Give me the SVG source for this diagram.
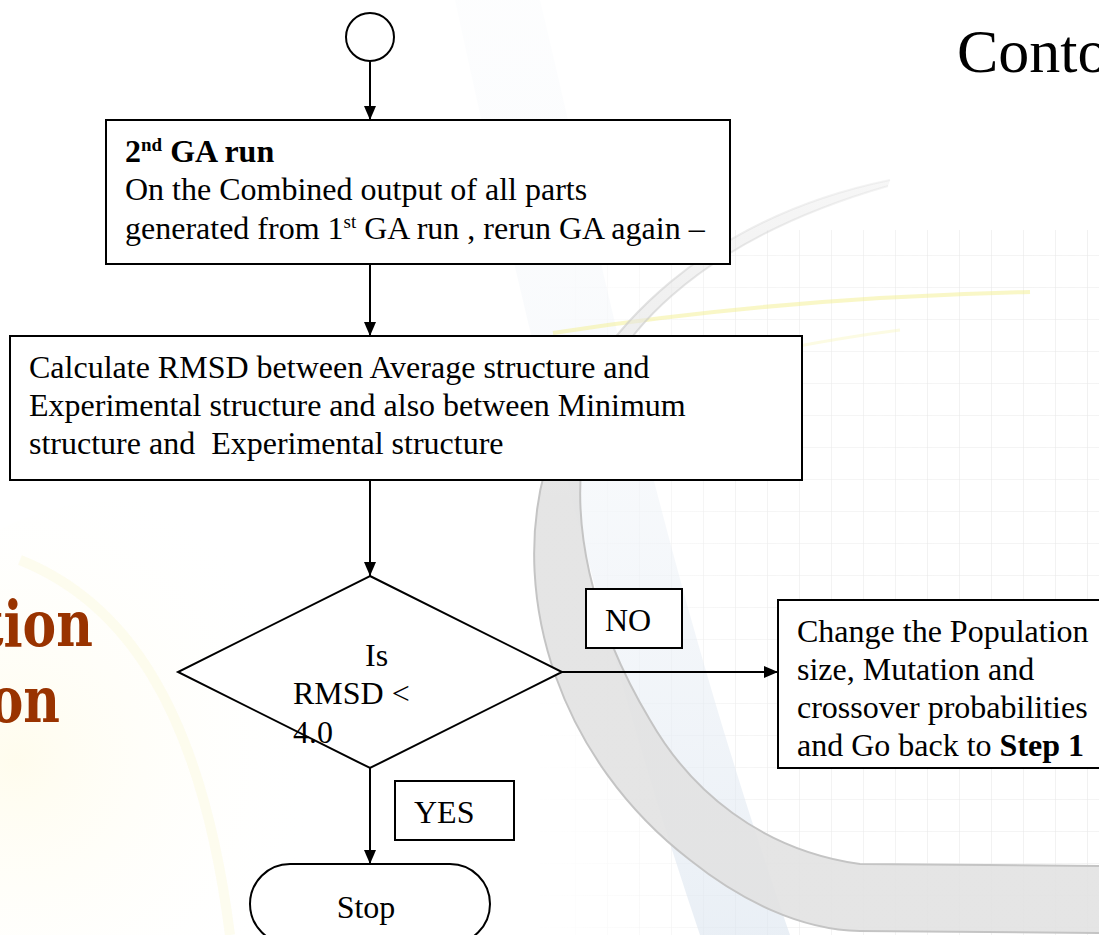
<svg xmlns="http://www.w3.org/2000/svg" width="1099" height="935" viewBox="0 0 1099 935">
  <defs>
    <style>
      .box { fill: #ffffff; stroke: #000000; stroke-width: 2; }
      .conn { fill: none; stroke: #000000; stroke-width: 2; }
      .t { font-family: "Liberation Serif", "Times New Roman", serif; font-size: 32px; fill: #000000; }
      .b { font-weight: bold; }
      .sup { font-size: 19px; }
      .title { font-family: "DejaVu Serif", "Liberation Serif", serif; font-weight: bold; font-size: 63px; fill: #993300; }
    </style>
    <marker id="arrow" viewBox="0 0 14 12" refX="14" refY="6" markerWidth="14" markerHeight="12" markerUnits="userSpaceOnUse" orient="auto">
      <path d="M0,0 L14,6 L0,12 Z" fill="#000000"/>
    </marker>
    <pattern id="grid" x="0" y="0" width="32" height="32" patternUnits="userSpaceOnUse">
      <path d="M32,0 V32 M0,32 H32" fill="none" stroke="#e8e8e8" stroke-width="1.2"/>
    </pattern>
    <linearGradient id="gridFade" x1="0" y1="0" x2="1" y2="0">
      <stop offset="0" stop-color="#fff" stop-opacity="0"/>
      <stop offset="0.35" stop-color="#fff" stop-opacity="0.8"/>
      <stop offset="1" stop-color="#fff" stop-opacity="1"/>
    </linearGradient>
    <mask id="gridMask">
      <rect x="540" y="230" width="560" height="705" fill="url(#gridFade)"/>
    </mask>
    <linearGradient id="blueBand" x1="0" y1="0" x2="0" y2="1">
      <stop offset="0" stop-color="#eef2f7" stop-opacity="0.2"/>
      <stop offset="0.5" stop-color="#e8eef5" stop-opacity="0.5"/>
      <stop offset="1" stop-color="#dde6f0" stop-opacity="0.9"/>
    </linearGradient>
    <linearGradient id="arcFade" gradientUnits="userSpaceOnUse" x1="0" y1="180" x2="0" y2="500">
      <stop offset="0" stop-color="#e4e4e4" stop-opacity="0.3"/>
      <stop offset="1" stop-color="#e2e2e2" stop-opacity="0.9"/>
    </linearGradient>
    <linearGradient id="arcEdge" gradientUnits="userSpaceOnUse" x1="0" y1="180" x2="0" y2="500">
      <stop offset="0" stop-color="#c8c8c8" stop-opacity="0.2"/>
      <stop offset="1" stop-color="#c4c4c4" stop-opacity="1"/>
    </linearGradient>
    <radialGradient id="yellowGlow" cx="0.3" cy="0.5" r="0.6">
      <stop offset="0" stop-color="#fffbe6" stop-opacity="0.7"/>
      <stop offset="1" stop-color="#ffffff" stop-opacity="0"/>
    </radialGradient>
  </defs>

  <!-- background decoration -->
  <g id="background">
    <rect x="0" y="0" width="1099" height="935" fill="#ffffff"/>
    <ellipse cx="120" cy="760" rx="260" ry="260" fill="url(#yellowGlow)"/>
    <rect x="540" y="230" width="560" height="705" fill="url(#grid)" mask="url(#gridMask)"/>
    <path d="M455,0 L540,0 C600,250 660,560 790,935 L700,935 C600,640 520,300 455,0 Z" fill="url(#blueBand)" opacity="0.7"/>
    <path d="M553,333 C700,310 850,296 1030,292" fill="none" stroke="#f4ef90" stroke-width="4" opacity="0.5"/>
    <path d="M590,390 C720,360 820,340 900,330" fill="none" stroke="#f8f4b8" stroke-width="3" opacity="0.4"/>
    <path d="M20,560 C120,600 200,700 230,935" fill="none" stroke="#fcf9e0" stroke-width="10" opacity="0.5"/>
    <path d="M890,180 C720,215 590,320 545,470 C510,600 560,760 690,860 C740,900 800,930 860,931 L1099,933 L1099,866 L860,864 C760,850 690,790 650,720 C590,620 570,520 585,440 C600,340 700,240 888,186 Z" fill="url(#arcFade)"/>
    <path d="M890,180 C720,215 590,320 545,470 C510,600 560,760 690,860 C740,900 800,930 860,931 L1099,933" fill="none" stroke="url(#arcEdge)" stroke-width="2"/>
    <path d="M888,186 C700,240 600,340 585,440 C570,520 590,620 650,720 C690,790 760,850 860,864 L1099,866" fill="none" stroke="url(#arcEdge)" stroke-width="2"/>
  </g>

  <text class="t" x="957" y="72" style="font-size:62px">Conto</text>
  <g transform="scale(0.8 1)">
    <text class="title" x="116" y="646" text-anchor="end">tion</text>
    <text class="title" x="75" y="722" text-anchor="end">on</text>
  </g>

  <!-- connectors -->
  <g id="connectors">
    <line class="conn" x1="370" y1="61" x2="370" y2="120" marker-end="url(#arrow)"/>
    <line class="conn" x1="370" y1="264" x2="370" y2="336" marker-end="url(#arrow)"/>
    <line class="conn" x1="370" y1="480" x2="370" y2="576" marker-end="url(#arrow)"/>
    <line class="conn" x1="562" y1="672" x2="778" y2="672" marker-end="url(#arrow)"/>
    <line class="conn" x1="370" y1="768" x2="370" y2="864" marker-end="url(#arrow)"/>
  </g>

  <g id="start">
    <circle class="box" cx="370" cy="37" r="24"/>
  </g>

  <g id="ga-run">
    <rect class="box" x="106" y="120" width="624" height="144"/>
    <text class="t b" x="125" y="162">2<tspan class="sup" dy="-11">nd</tspan><tspan dy="11"> GA run</tspan></text>
    <text class="t" x="125" y="200">On the Combined output of all parts</text>
    <text class="t" x="125" y="239">generated from 1<tspan class="sup" dy="-11">st</tspan><tspan dy="11"> GA run , rerun GA again –</tspan></text>
  </g>

  <g id="rmsd">
    <rect class="box" x="10" y="336" width="792" height="144"/>
    <text class="t" x="29" y="378">Calculate RMSD between Average structure and</text>
    <text class="t" x="29" y="416">Experimental structure and also between Minimum</text>
    <text class="t" x="29" y="454" xml:space="preserve">structure and  Experimental structure</text>
  </g>

  <g id="decision">
    <polygon class="box" points="370,576 562,672 370,768 178,672"/>
    <text class="t" x="365" y="666">Is</text>
    <text class="t" x="293" y="704">RMSD &lt;</text>
    <text class="t" x="293" y="743">4.0</text>
  </g>

  <g id="no-label">
    <rect class="box" x="586" y="589" width="96" height="59"/>
    <text class="t" x="605" y="631">NO</text>
  </g>

  <g id="change">
    <rect class="box" x="778" y="600" width="330" height="168"/>
    <text class="t" x="797" y="642">Change the Population</text>
    <text class="t" x="797" y="680">size, Mutation and</text>
    <text class="t" x="797" y="718">crossover probabilities</text>
    <text class="t" x="797" y="756">and Go back to <tspan class="b">Step 1</tspan></text>
  </g>

  <g id="yes-label">
    <rect class="box" x="395" y="781" width="119" height="59"/>
    <text class="t" x="414" y="823">YES</text>
  </g>

  <g id="stop">
    <rect class="box" x="250" y="864" width="240" height="80" rx="40" ry="40"/>
    <text class="t" x="366" y="918" text-anchor="middle">Stop</text>
  </g>
</svg>
